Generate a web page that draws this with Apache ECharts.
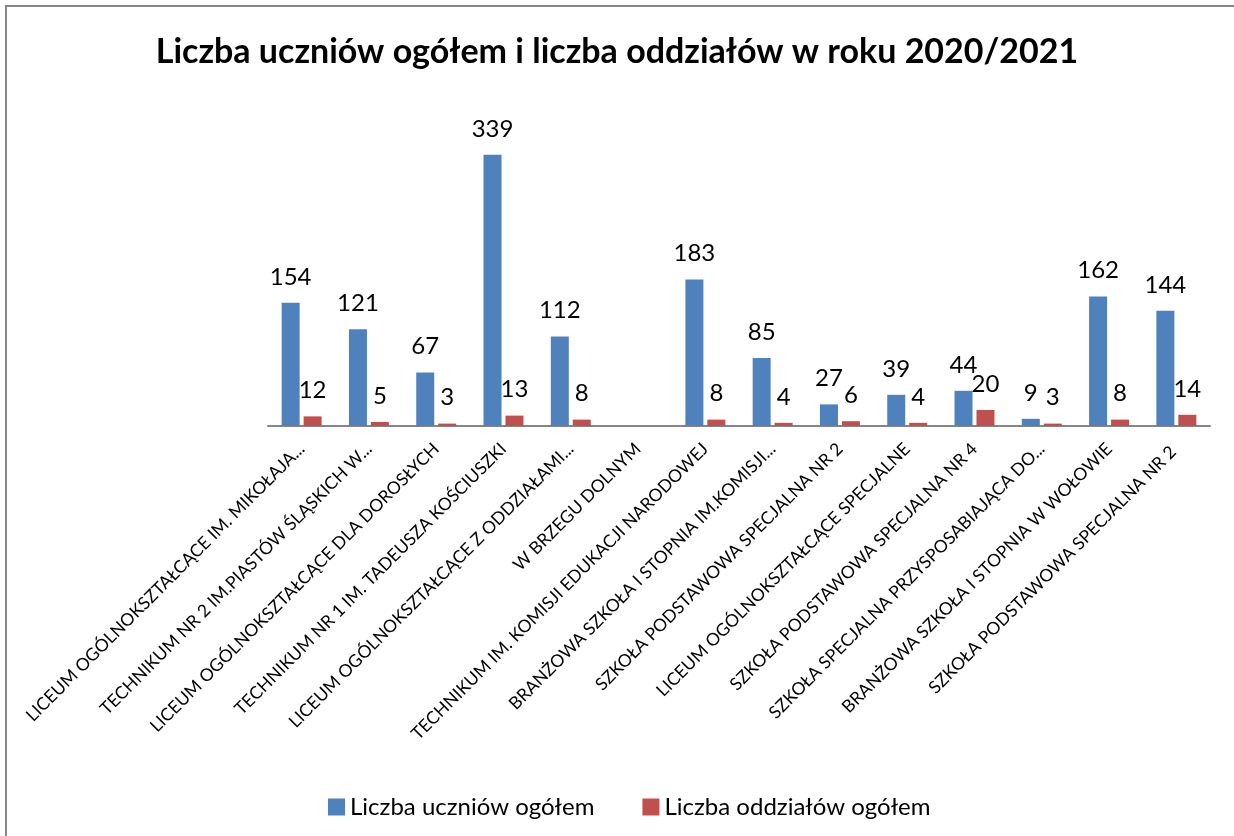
<!DOCTYPE html>
<html>
<head>
<meta charset="utf-8">
<script src="https://cdn.jsdelivr.net/npm/echarts@6/dist/echarts.min.js"></script>
<style>
  html, body { margin: 0; padding: 0; background: #fff; }
  #chart { width: 1234px; height: 836px; }
</style>
</head>
<body>
<div id="chart"></div>
<script>
var categories = [
  'LICEUM OGÓLNOKSZTAŁCĄCE IM. MIKOŁAJA...',
  'TECHNIKUM NR 2 IM.PIASTÓW ŚLĄSKICH W...',
  'LICEUM OGÓLNOKSZTAŁCĄCE DLA DOROSŁYCH',
  'TECHNIKUM NR 1 IM. TADEUSZA KOŚCIUSZKI',
  'LICEUM OGÓLNOKSZTAŁCĄCE Z ODDZIAŁAMI...',
  'W BRZEGU DOLNYM',
  'TECHNIKUM IM. KOMISJI EDUKACJI NARODOWEJ',
  'BRANŻOWA SZKOŁA I STOPNIA IM.KOMISJI...',
  'SZKOŁA PODSTAWOWA SPECJALNA NR 2',
  'LICEUM OGÓLNOKSZTAŁCĄCE SPECJALNE',
  'SZKOŁA PODSTAWOWA SPECJALNA NR 4',
  'SZKOŁA SPECJALNA PRZYSPOSABIAJĄCA DO...',
  'BRANŻOWA SZKOŁA I STOPNIA W WOŁOWIE',
  'SZKOŁA PODSTAWOWA SPECJALNA NR 2 '
];
var uczniowie = [154, 121, 67, 339, 112, null, 183, 85, 27, 39, 44, 9, 162, 144];
var oddzialy = [12, 5, 3, 13, 8, null, 8, 4, 6, 4, 20, 3, 8, 14];

var fontName = 'Lato';
var chart = echarts.init(document.getElementById('chart'));

var labelStyle = {
  show: true,
  position: 'top',
  distance: 14,
  color: '#000',
  fontSize: 24,
  fontFamily: fontName
};

var option = {
  animation: false,
  textStyle: { fontFamily: fontName },
  graphic: [{
    type: 'rect',
    shape: { x: 6, y: 6, width: 1240, height: 840 },
    style: { fill: 'none', stroke: '#868686', lineWidth: 2 },
    silent: true
  }],
  title: {
    text: 'Liczba uczniów ogółem i liczba oddziałów w roku 2020/2021',
    left: 'center',
    top: 30,
    textStyle: { fontSize: 34, fontWeight: 'bold', color: '#000', fontFamily: fontName }
  },
  legend: {
    left: 323,
    top: 790,
    itemWidth: 17,
    itemHeight: 17,
    itemGap: 48,
    icon: 'rect',
    textStyle: { fontSize: 24, color: '#000', fontFamily: fontName },
    data: ['Liczba uczniów ogółem', 'Liczba oddziałów ogółem']
  },
  grid: { left: 268, right: 24, top: 106, bottom: 410, containLabel: false },
  xAxis: {
    type: 'category',
    data: categories,
    axisLine: { lineStyle: { color: '#868686', width: 2 } },
    axisTick: { show: false },
    axisLabel: {
      interval: 0,
      rotate: 45,
      margin: 20,
      fontSize: 17.5,
      color: '#000',
      fontFamily: fontName
    }
  },
  yAxis: {
    type: 'value',
    min: 0,
    max: 400,
    show: false,
    splitLine: { show: false }
  },
  series: [
    {
      name: 'Liczba uczniów ogółem',
      type: 'bar',
      data: uczniowie,
      barWidth: 18,
      barGap: '22%',
      itemStyle: { color: '#4F81BD' },
      label: labelStyle
    },
    {
      name: 'Liczba oddziałów ogółem',
      type: 'bar',
      data: oddzialy,
      barWidth: 18,
      itemStyle: { color: '#C0504D' },
      label: labelStyle
    }
  ]
};

chart.setOption(option);
</script>
</body>
</html>
